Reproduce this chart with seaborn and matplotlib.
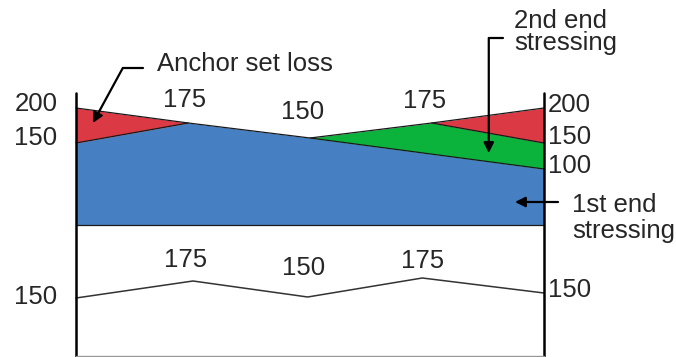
import numpy as np
import matplotlib.pyplot as plt
import seaborn as sns

# stations along the tendon (0 = left anchor, 1 = right anchor)
first_end_x = [0.0, 0.24, 0.5, 1.0]
anchor_left_x = [0.0, 0.24]
second_end_x = [0.5, 0.76, 1.0]
anchor_right_x = [0.76, 1.0]
final_x = [0.0, 0.25, 0.495, 0.74, 1.0]

# drawn heights of the force diagrams (schematic, not to scale)
base_level = 132
first_end_top = [214, 234, 219, 188]
anchor_left_top = [249, 234]
second_end_top = [219, 234, 214]
anchor_right_top = [234, 249]
final_level = [59, 76, 60, 79, 64]

# labels
left_labels = ["200", "150"]
upper_mid_labels = ["175", "150", "175"]
right_labels = ["200", "150", "100"]
lower_mid_labels = ["175", "150", "175"]
lower_end_labels = ["150", "150"]

RED = "#DB3A45"
GREEN = "#0BB33C"
BLUE = "#4680C3"
EDGE = "#1a1a1a"

sns.set_style("white")
plt.rcParams["font.family"] = ["Liberation Sans", "DejaVu Sans"]
FS = 18.5

fig = plt.figure(figsize=(6.76, 3.57), dpi=100)
ax = fig.add_axes([0, 0, 1, 1])
ax.set_xlim(-76 / 468, 600 / 468)
ax.set_ylim(0, 357)
ax.axis("off")

# filled regions
ax.fill_between(first_end_x, base_level, first_end_top, color=BLUE, lw=0)
red_l_low = np.interp(anchor_left_x, first_end_x, first_end_top)
ax.fill_between(anchor_left_x, red_l_low, anchor_left_top, color=RED, lw=0)
green_low = np.interp(second_end_x, first_end_x, first_end_top)
ax.fill_between(second_end_x, green_low, second_end_top, color=GREEN, lw=0)
red_r_low = np.interp(anchor_right_x, second_end_x, second_end_top)
ax.fill_between(anchor_right_x, red_r_low, anchor_right_top, color=RED, lw=0)

# outlines
ax.plot(first_end_x, first_end_top, color=EDGE, lw=0.9)
ax.plot(anchor_left_x, anchor_left_top, color=EDGE, lw=0.9)
ax.plot(second_end_x, second_end_top, color=EDGE, lw=0.9)
ax.plot(anchor_right_x, anchor_right_top, color=EDGE, lw=0.9)
ax.plot([0, 1], [base_level, base_level], color=EDGE, lw=0.9)

# final force line
sns.lineplot(x=final_x, y=final_level, color="#333333", lw=1.1, ax=ax)

# anchors and base
ax.plot([0, 0], [0, 264], color="black", lw=1.8)
ax.plot([1, 1], [0, 264], color="black", lw=1.8)
ax.plot([0, 1], [1, 1], color="#999999", lw=1.0)

# value labels
for lab, y in zip(left_labels, [253, 219]):
    ax.text(-0.04, y, lab, ha="right", va="center", fontsize=FS)
for lab, x, y in zip(upper_mid_labels, [0.233, 0.485, 0.744], [257, 245, 256]):
    ax.text(x, y, lab, ha="center", va="center", fontsize=FS)
for lab, y in zip(right_labels, [252, 220, 191]):
    ax.text(1.008, y, lab, ha="left", va="center", fontsize=FS)
for lab, x, y in zip(lower_mid_labels, [0.235, 0.487, 0.741], [97, 89, 96]):
    ax.text(x, y, lab, ha="center", va="center", fontsize=FS)
ax.text(-0.04, 60, lower_end_labels[0], ha="right", va="center", fontsize=FS)
ax.text(1.008, 67, lower_end_labels[1], ha="left", va="center", fontsize=FS)

# callouts
arrow = dict(arrowstyle="-|>", color="black", lw=1.6, mutation_scale=15,
             shrinkA=0, shrinkB=0)

ax.text(0.173, 293, "Anchor set loss", ha="left", va="center", fontsize=FS)
ax.plot([0.143, 0.100], [289, 289], color="black", lw=1.6)
ax.annotate("", xy=(0.036, 234), xytext=(0.100, 289), arrowprops=arrow)

ax.text(0.936, 329, "2nd end", ha="left", va="baseline", fontsize=FS)
ax.text(0.936, 307, "stressing", ha="left", va="baseline", fontsize=FS)
ax.plot([0.912, 0.882], [319, 319], color="black", lw=1.6)
ax.annotate("", xy=(0.882, 204), xytext=(0.882, 319), arrowprops=arrow)

ax.text(1.06, 145, "1st end", ha="left", va="baseline", fontsize=FS)
ax.text(1.06, 119, "stressing", ha="left", va="baseline", fontsize=FS)
ax.annotate("", xy=(0.938, 155), xytext=(1.030, 155), arrowprops=arrow)

fig.savefig("out.png", dpi=100)
